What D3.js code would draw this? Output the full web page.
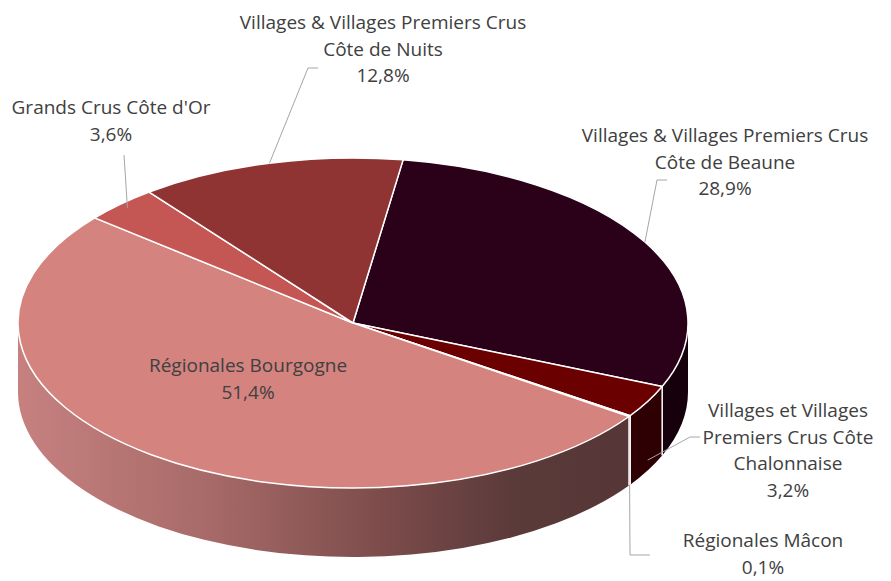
<!DOCTYPE html>
<head>
    <meta charset="utf-8">
    <title>Bourgogne - 3D pie</title>
    <style>
        body { margin: 0; background: #fff; }
        text { font-family: "Open Sans", Lato, sans-serif; font-size: 19px; fill: #404040; }
    </style>
</head>
<body>

<svg width="891" height="581"></svg>

<script src="https://d3js.org/d3.v7.min.js"></script>

<script>

// data, in the order the slices go round (clockwise)
var categories = [
    ['Villages & Villages Premiers Crus', 'Côte de Beaune'],
    ['Villages et Villages', 'Premiers Crus Côte', 'Chalonnaise'],
    ['Régionales Mâcon'],
    ['Régionales Bourgogne'],
    ['Grands Crus Côte d\'Or'],
    ['Villages & Villages Premiers Crus', 'Côte de Nuits']
];
var values = [28.9, 3.2, 0.1, 51.4, 3.6, 12.8];

// styling per slice
var topColors  = ['#2b0019', '#6a0000', '#7a1010', '#d4837f', '#c45754', '#8f3432'];
var sideColors = ['#16000c', '#2e0003', '#2e0003', 'url(#sideGrad)', '#8a3a38', '#5a1f1e'];

// label layout: centre x, first baseline y, leader end (label side), elbow, anchor depth (0 = top face)
var labelLayout = [
    { x: 725, y: 142, end: [667, 180], elbow: [657, 180], r: 1, depth: 0 },
    { x: 788, y: 417, end: [700, 437], elbow: [690, 437], r: 1, depth: 0.85 },
    { x: 763, y: 547, end: [650, 555], elbow: [630, 555], r: 1, depth: 1 },
    { x: 248, y: 372, end: null },
    { x: 111, y: 114, end: [124, 155], elbow: null, r: 0.97, depth: 0 },
    { x: 383, y: 29, end: [318, 68], elbow: [308, 68], r: 1, depth: 0 }
];

var svg = d3.select('svg');

var cx = 353, cy = 323,   // centre of the top face
    rx = 335, ry = 165,   // ellipse radii
    depth = 69,           // thickness of the pie
    lineH = 26.5;

var pct = v => d3.format('.1f')(v).replace('.', ',') + '%';

// point on the (squashed) ellipse, angle clockwise from 12 o'clock
var px = (a, f = 1) => cx + rx * f * Math.sin(a),
    py = (a, f = 1) => cy - ry * f * Math.cos(a);

var start = 8.6 * Math.PI / 180;
var pie = d3.pie().sort(null).startAngle(start).endAngle(start + 2 * Math.PI);
var arcs = pie(values);

// gradient on the big slice's wall
var grad = svg.append('defs').append('linearGradient')
    .attr('id', 'sideGrad')
    .attr('gradientUnits', 'userSpaceOnUse')
    .attr('x1', cx - rx).attr('x2', cx + rx * 0.85)
    .attr('y1', 0).attr('y2', 0);
[[0, '#c6817f'], [0.3, '#a86b69'], [0.6, '#7a4b4a'], [0.8, '#5b3a3a'], [1, '#553535']]
    .forEach(s => grad.append('stop').attr('offset', s[0]).attr('stop-color', s[1]));

// visible part of each wall (front half: 90deg .. 270deg)
function wall(d) {
    var s = Math.max(d.startAngle, Math.PI / 2),
        e = Math.min(d.endAngle, 3 * Math.PI / 2);
    if (e <= s) return null;
    return `M${px(s)},${py(s)} A${rx},${ry} 0 0 1 ${px(e)},${py(e)}` +
        ` L${px(e)},${py(e) + depth} A${rx},${ry} 0 0 0 ${px(s)},${py(s) + depth} Z`;
}

function topFace(d) {
    var large = d.endAngle - d.startAngle > Math.PI ? 1 : 0;
    return `M${cx},${cy} L${px(d.startAngle)},${py(d.startAngle)}` +
        ` A${rx},${ry} 0 ${large} 1 ${px(d.endAngle)},${py(d.endAngle)} Z`;
}

var walls = svg.append('g');
walls.selectAll('path')
    .data(arcs.filter(d => wall(d)))
    .enter().append('path')
        .attr('d', wall)
        .attr('fill', d => sideColors[d.index]);

// white seams down the wall where slices meet
walls.selectAll('line')
    .data(arcs.filter(d => d.startAngle > Math.PI / 2 && d.startAngle < 3 * Math.PI / 2))
    .enter().append('line')
        .attr('x1', d => px(d.startAngle)).attr('y1', d => py(d.startAngle))
        .attr('x2', d => px(d.startAngle)).attr('y2', d => py(d.startAngle) + depth)
        .attr('stroke', '#fff').attr('stroke-width', 1.5);

svg.append('g').selectAll('path')
    .data(arcs)
    .enter().append('path')
        .attr('d', topFace)
        .attr('fill', d => topColors[d.index])
        .attr('stroke', '#fff')
        .attr('stroke-width', 1.5)
        .attr('stroke-linejoin', 'round');

// leader lines
svg.append('g').selectAll('polyline')
    .data(arcs.filter(d => labelLayout[d.index].end))
    .enter().append('polyline')
        .attr('points', d => {
            var L = labelLayout[d.index],
                m = (d.startAngle + d.endAngle) / 2,
                pts = [L.end];
            if (L.elbow) pts.push(L.elbow);
            pts.push([px(m, L.r), py(m, L.r) + L.depth * depth]);
            return pts.map(p => p.join(',')).join(' ');
        })
        .attr('fill', 'none')
        .attr('stroke', '#a6a6a6')
        .attr('stroke-width', 1);

// labels
var label = svg.append('g').selectAll('text')
    .data(arcs)
    .enter().append('text')
        .attr('text-anchor', 'middle');

label.selectAll('tspan')
    .data(d => categories[d.index].concat([pct(d.data)]).map(t => ({ t: t, L: labelLayout[d.index] })))
    .enter().append('tspan')
        .attr('x', d => d.L.x)
        .attr('y', (d, i) => d.L.y + i * lineH)
        .text(d => d.t);

</script>

</body>
